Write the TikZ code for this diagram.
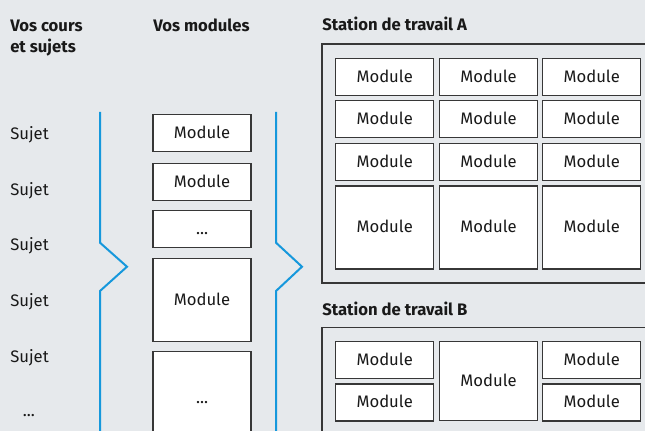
\documentclass[tikz,border=0pt]{standalone}
\usepackage{fontspec}
\setmainfont{Fira Sans}
\definecolor{bg}{RGB}{230,233,236}
\definecolor{lineblue}{RGB}{22,152,220}
\definecolor{boxline}{RGB}{55,55,55}
\definecolor{ink}{RGB}{25,25,25}
\begin{document}
\begin{tikzpicture}[x=0.75pt,y=-0.75pt,
  txt/.style={font=\fontsize{12.5}{15.75}\selectfont, text=ink},
  module/.style 2 args={txt, draw=boxline, line width=0.8pt, fill=white,
    minimum width=#1*0.75pt, minimum height=#2*0.75pt, inner sep=0pt,
    text height=0.8em, text depth=0pt},
  lbl/.style={txt, anchor=base west, inner sep=0pt},
  head/.style={lbl, font=\fontsize{12.5}{15.75}\selectfont\bfseries, align=left},
  frame/.style={draw=boxline, line width=1pt},
  bracket/.style={draw=lineblue, line width=1.5pt, line join=miter}]

  % canvas
  \fill[bg] (0,0) rectangle (645,431);
  \useasboundingbox (0,0) rectangle (645,431);

  % column headings (a two-line node sits on the baseline of its last line)
  \node[head] (hcours) at (10,52.7) {Vos cours\\et sujets};
  \node[head] (hmods) at (153,31.7) {Vos modules};
  \node[head] (hA) at (322,30.5) {Station de travail A};
  \node[head] (hB) at (322,315) {Station de travail B};

  % subjects
  \node[lbl] (s1) at (10,139.5) {Sujet};
  \node[lbl] (s2) at (10,195) {Sujet};
  \node[lbl] (s3) at (10,250.5) {Sujet};
  \node[lbl] (s4) at (10,306.5) {Sujet};
  \node[lbl] (s5) at (10,362) {Sujet};
  \node[lbl] (s6) at (22.5,416) {...};

  % brackets
  \draw[bracket] (100,112) -- (100,242.7) -- (127,266.7) -- (100,291) -- (100,440);
  \draw[bracket] (276,112) -- (276,242.7) -- (302,266.7) -- (276,291) -- (276,440);

  % module column
  \node[module={98}{37.4}] (m1) at (202,133) {Module};
  \node[module={98}{37.3}] (m2) at (202,182.3) {Module};
  \node[module={98}{37.3}] (m3) at (202,229.3) {...};
  \node[module={98}{82.7}] (m4) at (202,300.3) {Module};
  \node[module={98}{93.3}] (m5) at (202,398.3) {...};

  % workstation A
  \draw[frame] (322,44) rectangle (660,283);
  \node[module={98}{37.4}] (a11) at (384.7,77) {Module};
  \node[module={98}{37.4}] (a12) at (488.5,77) {Module};
  \node[module={98}{37.4}] (a13) at (591.7,77) {Module};
  \node[module={98}{37}]   (a21) at (384.7,119.2) {Module};
  \node[module={98}{37}]   (a22) at (488.5,119.2) {Module};
  \node[module={98}{37}]   (a23) at (591.7,119.2) {Module};
  \node[module={98}{37.4}] (a31) at (384.7,162) {Module};
  \node[module={98}{37.4}] (a32) at (488.5,162) {Module};
  \node[module={98}{37.4}] (a33) at (591.7,162) {Module};
  \node[module={98}{83}]   (a41) at (384.7,227.5) {Module};
  \node[module={98}{83}]   (a42) at (488.5,227.5) {Module};
  \node[module={98}{83}]   (a43) at (591.7,227.5) {Module};

  % workstation B
  \draw[frame] (322,327.3) rectangle (660,445);
  \node[module={98}{37.3}] (b11) at (384.7,360.3) {Module};
  \node[module={98}{37}]   (b21) at (384.7,402.5) {Module};
  \node[module={98}{79.3}] (b2)  at (488.5,381.3) {Module};
  \node[module={98}{37.3}] (b13) at (591.7,360.3) {Module};
  \node[module={98}{37}]   (b23) at (591.7,402.5) {Module};
\end{tikzpicture}
\end{document}
